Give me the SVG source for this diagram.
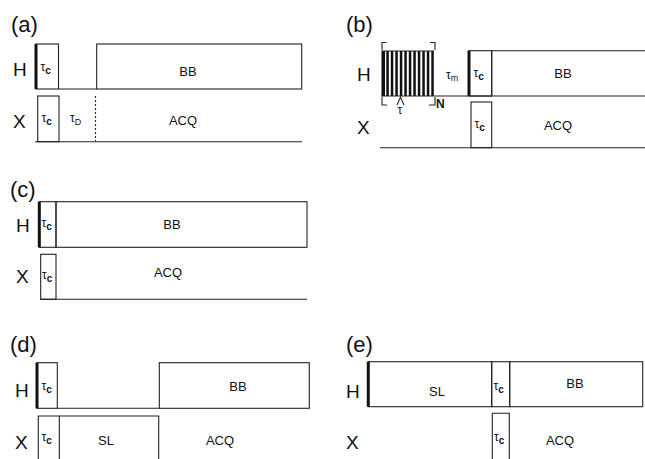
<svg xmlns="http://www.w3.org/2000/svg" width="645" height="459" viewBox="0 0 645 459">
<style>
.box{fill:none;stroke:#222;stroke-width:1.1}
.ln{stroke:#222;stroke-width:1.1;fill:none}
.thick{stroke:#111;stroke-width:3}
.pl{font-family:"Liberation Sans",Arial,sans-serif;font-size:22px;fill:#111}
.ch{font-family:"Liberation Sans",Arial,sans-serif;font-size:19px;fill:#111}
.lb{font-family:"Liberation Sans",Arial,sans-serif;font-size:13px;fill:#111;text-anchor:middle}
.tau{font-family:"Liberation Sans",Arial,sans-serif;font-size:12px;fill:#111}
.sub{font-size:10px;font-weight:bold}
.subn{font-size:9px}
.bar{fill:#111}
</style>
<rect width="645" height="459" fill="#fff"/>

<!-- Panel a -->
<g id="panel-a">
  <text class="pl" x="11" y="32">(a)</text>
  <text class="ch" x="13" y="76">H</text>
  <text class="ch" x="13" y="128">X</text>
  <g id="a-H-tc"><rect class="box" x="36" y="44" width="22.5" height="45"/><line class="thick" x1="36" y1="44" x2="36" y2="89"/><text class="tau" x="40.5" y="71">τ<tspan class="sub" dy="3">c</tspan></text></g>
  <line class="ln" x1="58.5" y1="89" x2="96.7" y2="89"/>
  <g id="a-H-BB"><rect class="box" x="96.7" y="44" width="205" height="45"/><text class="lb" x="188" y="76">BB</text></g>
  <g id="a-X-tc"><rect class="box" x="37.7" y="96" width="21.3" height="45.7"/><text class="tau" x="41.5" y="122">τ<tspan class="sub" dy="3">c</tspan></text></g>
  <line class="ln" x1="35" y1="141.7" x2="302" y2="141.7"/>
  <line class="ln" x1="95.5" y1="96" x2="95.5" y2="141" stroke="#111" stroke-width="2" stroke-dasharray="2,2"/>
  <text class="tau" x="70" y="122">τ<tspan class="subn" dy="3">D</tspan></text>
  <text class="lb" x="183" y="125">ACQ</text>
</g>

<!-- Panel b -->
<g id="panel-b">
  <text class="pl" x="346" y="32">(b)</text>
  <text class="ch" x="357" y="81">H</text>
  <text class="ch" x="357" y="134">X</text>
  <g id="b-pulse-train">
    <rect class="bar" x="381.5" y="51" width="3.5" height="45"/>
    <rect class="bar" x="386.3" y="51" width="2.5" height="45"/>
    <rect class="bar" x="390.8" y="51" width="2.5" height="45"/>
    <rect class="bar" x="395.3" y="51" width="2.5" height="45"/>
    <rect class="bar" x="399.8" y="51" width="2.5" height="45"/>
    <rect class="bar" x="404.3" y="51" width="2.5" height="45"/>
    <rect class="bar" x="408.8" y="51" width="2.5" height="45"/>
    <rect class="bar" x="413.3" y="51" width="2.5" height="45"/>
    <rect class="bar" x="417.8" y="51" width="2.5" height="45"/>
    <rect class="bar" x="422.3" y="51" width="2.5" height="45"/>
    <rect class="bar" x="426.8" y="51" width="2.5" height="45"/>
    <rect class="bar" x="431.3" y="51" width="2.5" height="45"/>
    <line class="ln" x1="381.5" y1="51" x2="434" y2="51"/>
    <path class="ln" stroke-width="1.6" d="M386.5,42.5 H382 V50 M430,42.5 H435 V50 M382,97 V105 H387 M429,105 H435 V97"/>
    <path class="ln" d="M397,105 L400.5,97 L404,105"/>
    <text class="tau" x="397.5" y="114" font-size="9">τ</text>
    <text class="tau" x="436" y="108" font-weight="bold" font-size="12">N</text>
  </g>
  <text class="tau" x="446" y="79">τ<tspan class="subn" dy="2">m</tspan></text>
  <g id="b-H-tc"><rect class="box" x="469" y="50.7" width="22.7" height="45.3"/><line class="thick" x1="469" y1="50.7" x2="469" y2="96" stroke-width="2.2"/><text class="tau" x="473.5" y="77">τ<tspan class="sub" dy="3">c</tspan></text></g>
  <g id="b-H-BB"><path class="ln" d="M491.7,96 V50.7 H645"/><text class="lb" x="563" y="78">BB</text></g>
  <line class="ln" x1="381" y1="96" x2="645" y2="96"/>
  <g id="b-X-tc"><rect class="box" x="471" y="102" width="20.7" height="45.7"/><text class="tau" x="474.5" y="128">τ<tspan class="sub" dy="3">c</tspan></text></g>
  <text class="lb" x="558" y="130">ACQ</text>
  <line class="ln" x1="380" y1="147.7" x2="645" y2="147.7"/>
</g>

<!-- Panel c -->
<g id="panel-c">
  <text class="pl" x="10" y="197">(c)</text>
  <text class="ch" x="16" y="232">H</text>
  <text class="ch" x="16" y="283">X</text>
  <g id="c-H-tc"><rect class="box" x="39.3" y="201.7" width="16.7" height="45.6"/><line class="thick" x1="39.3" y1="201.7" x2="39.3" y2="247.3"/><text class="tau" x="41.5" y="227">τ<tspan class="sub" dy="3">c</tspan></text></g>
  <g id="c-H-BB"><rect class="box" x="56" y="201.7" width="251" height="45.6"/><text class="lb" x="172" y="229">BB</text></g>
  <g id="c-X-tc"><rect class="box" x="40.7" y="254.3" width="15.3" height="45"/><text class="tau" x="42" y="279">τ<tspan class="sub" dy="3">c</tspan></text></g>
  <text class="lb" x="168" y="277">ACQ</text>
  <line class="ln" x1="40" y1="299.3" x2="307" y2="299.3"/>
</g>

<!-- Panel d -->
<g id="panel-d">
  <text class="pl" x="10" y="352">(d)</text>
  <text class="ch" x="15" y="397">H</text>
  <text class="ch" x="15" y="449">X</text>
  <g id="d-H-tc"><rect class="box" x="37" y="362.7" width="20.3" height="45.6"/><line class="thick" x1="37" y1="362.7" x2="37" y2="408.3"/><text class="tau" x="41.5" y="390">τ<tspan class="sub" dy="3">c</tspan></text></g>
  <line class="ln" x1="57.3" y1="408.3" x2="159.3" y2="408.3"/>
  <g id="d-H-BB"><rect class="box" x="159.3" y="362.7" width="150" height="45.6"/><text class="lb" x="238" y="391">BB</text></g>
  <g id="d-X-tc"><path class="ln" d="M38.3,460 V416 H59.3 V460"/><text class="tau" x="41.5" y="441">τ<tspan class="sub" dy="3">c</tspan></text></g>
  <g id="d-X-SL"><path class="ln" d="M59.3,416 H158.7 V460"/><text class="lb" x="106" y="445">SL</text></g>
  <text class="lb" x="220" y="445">ACQ</text>
</g>

<!-- Panel e -->
<g id="panel-e">
  <text class="pl" x="346" y="352">(e)</text>
  <text class="ch" x="346" y="398">H</text>
  <text class="ch" x="346" y="449">X</text>
  <g id="e-H-SL"><rect class="box" x="368.3" y="361.7" width="123.4" height="45"/><line class="thick" x1="368.3" y1="361.7" x2="368.3" y2="406.7" stroke-width="2.2"/><text class="lb" x="437" y="396">SL</text></g>
  <g id="e-H-tc"><rect class="box" x="491.7" y="361.7" width="18" height="45"/><text class="tau" x="493.5" y="390">τ<tspan class="sub" dy="3">c</tspan></text></g>
  <g id="e-H-BB"><rect class="box" x="509.7" y="361.7" width="133" height="45"/><text class="lb" x="575" y="388">BB</text></g>
  <g id="e-X-tc"><path class="ln" d="M492.3,460 V413.3 H509.3 V460"/><text class="tau" x="494" y="441">τ<tspan class="sub" dy="3">c</tspan></text></g>
  <text class="lb" x="560" y="445">ACQ</text>
</g>
</svg>
